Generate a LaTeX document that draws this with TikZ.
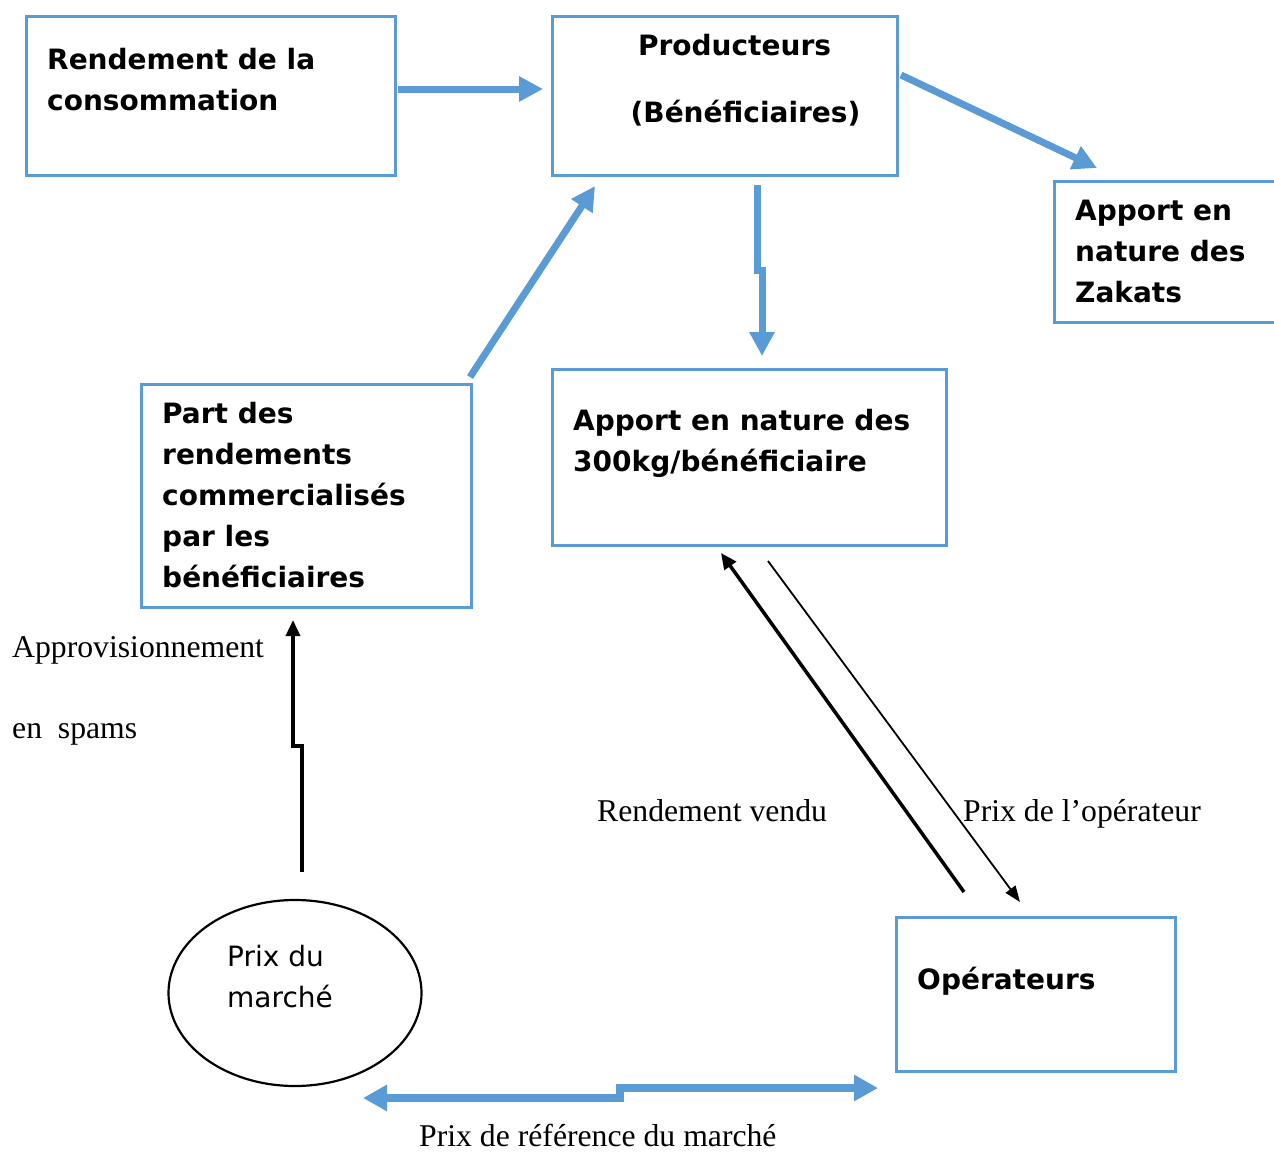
\documentclass[tikz,border=0pt]{standalone}
\usepackage{fontspec}
\setmainfont{Liberation Serif}
\newfontfamily\dvs{DejaVu Sans}
\usetikzlibrary{arrows.meta,shapes.geometric,calc}
\definecolor{bl}{RGB}{91,155,213}
\newcommand\vst{\rule{0pt}{24pt}}
\begin{document}
\begin{tikzpicture}[x=1pt,y=-1pt,
  box/.style={draw=bl, line width=2.5pt, rectangle, inner sep=0pt, anchor=north west},
  txt/.style={anchor=north west, inner sep=0pt, align=left, font=\dvs\bfseries\fontsize{28}{41}\selectfont},
  rtxt/.style={anchor=north west, inner sep=0pt, align=left, font=\dvs\fontsize{28}{41}\selectfont},
  lbl/.style={anchor=base west, inner sep=0pt, font=\fontsize{31.7}{38}\selectfont},
  barrow/.style={draw=bl, line width=7pt, -{Triangle[length=24pt,width=24pt]}},
  karrow/.style={draw=black, line width=3.5pt, -{Triangle[length=16pt,width=14pt]}},
  thinarrow/.style={draw=black, line width=1.8pt, -{Triangle[length=16pt,width=12pt]}}
]
\useasboundingbox (0,0) rectangle (1274,1151);
\fill[white] (0,0) rectangle (1274,1151);

% boxes
\node[box, minimum width=369pt, minimum height=159pt] (b1) at (25,15) {};
\node[box, minimum width=345pt, minimum height=159pt] (b2) at (551,15) {};
\node[box, minimum width=228pt, minimum height=141pt] (b3) at (1053,180) {};
\node[box, minimum width=330pt, minimum height=223pt] (b4) at (140,383) {};
\node[box, minimum width=394pt, minimum height=176pt] (b5) at (551,368) {};
\node[box, minimum width=279pt, minimum height=154pt] (b6) at (895,916) {};
\node[draw=black, line width=2.2pt, ellipse, minimum width=253pt, minimum height=186pt, inner sep=0pt] (e) at (295,993) {};

% box texts
\node[txt] (t1) at (47,45) {\vst Rendement de la\\consommation};
\node[txt, anchor=north, align=center] (t2) at (740,31) {\vst Producteurs\hspace*{11pt}\\[26pt]\hspace*{11pt}(Bénéficiaires)};
\node[txt] (t3) at (1075,196) {\vst Apport en\\nature des\\Zakats};
\node[txt] (t4) at (162,399) {\vst Part des\\rendements\\commercialisés\\par les\\bénéficiaires};
\node[txt] (t5) at (573,406) {\vst Apport en nature des\\300kg/bénéficiaire};
\node[txt] (t6) at (917,965) {\vst Opérateurs};
\node[rtxt] (te) at (227,942) {\vst Prix du\\marché};

% serif labels
\node[lbl] (l1) at (12,657) {Approvisionnement};
\node[lbl] (l2) at (12,738) {en\ \ spams};
\node[lbl] (l3) at (597,821) {Rendement vendu};
\node[lbl] (l4) at (963,821) {Prix de l’opérateur};
\node[lbl] (l5) at (419,1146) {Prix de référence du marché};

% connector end points
\coordinate (a1s) at (398,89);   \coordinate (a1e) at (543,89);
\coordinate (a2s) at (901,75);   \coordinate (a2e) at (1097,168);
\coordinate (a3s) at (470,377);  \coordinate (a3e) at (595,186);
\coordinate (a4s) at (757,185);  \coordinate (a4e) at (762,356);
\coordinate (d1) at (363,1098);  \coordinate (d2) at (878,1088);
\coordinate (k1s) at (302,872);  \coordinate (k1e) at (293,620);
\coordinate (k2s) at (964,892);  \coordinate (k2e) at (721,553);
\coordinate (k3s) at (768,561);  \coordinate (k3e) at (1020,902);

% blue arrows
\draw[barrow] (a1s) -- (a1e);
\draw[barrow] (a2s) -- (a2e);
\draw[barrow] (a3s) -- (a3e);
\draw[barrow] (a4s) -- (757,270) -- (762,270) -- (a4e);
\draw[draw=bl, line width=7.5pt, {Triangle[length=24pt,width=25pt]}-{Triangle[length=24pt,width=25pt]}]
  (d1) -- (620,1098) -- (620,1088) -- (d2);

% black arrows
\draw[karrow] (k1s) -- (302,746) -- (293,746) -- (k1e);
\draw[karrow] (k2s) -- (k2e);
\draw[thinarrow] (k3s) -- (k3e);
\end{tikzpicture}
\end{document}
